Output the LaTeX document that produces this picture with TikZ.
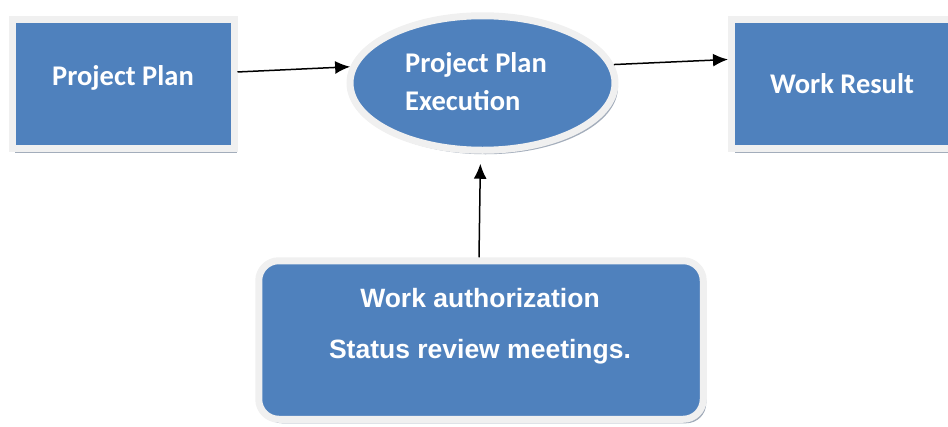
\documentclass[tikz,border=0pt]{standalone}
\usepackage{fontspec}
\setmainfont{Carlito}
\newfontfamily\arialfont{Liberation Sans}
\usetikzlibrary{arrows.meta,shapes.geometric,shadows}
\definecolor{boxblue}{HTML}{4F81BD}
\definecolor{rimgray}{HTML}{F0F0F0}
\definecolor{shadowgray}{HTML}{A3ADBB}
\tikzset{
  shape3d/.style={fill=boxblue, draw=rimgray, line width=7pt,
    drop shadow={shadow xshift=3pt, shadow yshift=-4pt, fill=shadowgray, opacity=1}},
  rectbox/.style={shape3d, rectangle, inner sep=0pt},
  ellbox/.style={shape3d, ellipse, inner sep=0pt},
  roundbox/.style={shape3d, rectangle, rounded corners=20pt, inner sep=0pt},
  calitext/.style={text=white, font=\fontsize{28.5}{38}\selectfont\bfseries, inner sep=0pt},
  arialtext/.style={text=white, font=\arialfont\fontsize{26.5}{30}\selectfont\bfseries, inner sep=0pt},
  arr/.style={-{Latex[length=15pt,width=13pt]}, line width=1.5pt, black}
}
\begin{document}
\begin{tikzpicture}[x=1pt,y=-1pt]
\useasboundingbox (0,0) rectangle (948,426);
\node[rectbox, minimum width=222pt, minimum height=129.5pt] (pp) at (123,84) {};
\node[calitext] (ppt) at (123,78) {Project Plan};
\node[ellbox, minimum width=265pt, minimum height=134.5pt] (ex) at (482.5,83) {};
\node[calitext, align=left, anchor=north west] (ext) at (405,52) {Project Plan\\Execution};
\node[rectbox, minimum width=224pt, minimum height=129.5pt] (wr) at (843.5,84) {};
\node[calitext] (wrt) at (842,84) {Work Result};
\node[roundbox, minimum width=444.5pt, minimum height=158.5pt] (bot) at (481,340) {};
\node[arialtext] (bt1) at (480,298) {Work authorization};
\node[arialtext] (bt2) at (480,352) {Status review meetings.};
\draw[arr] (pp.6) -- (ex.173.6);
\draw[arr] (ex.8.7) -- (wr.168.2);
\draw[arr, shorten >=10pt] ([xshift=-2pt]bot.north) -- ([xshift=-2pt]ex.south);
\end{tikzpicture}
\end{document}
